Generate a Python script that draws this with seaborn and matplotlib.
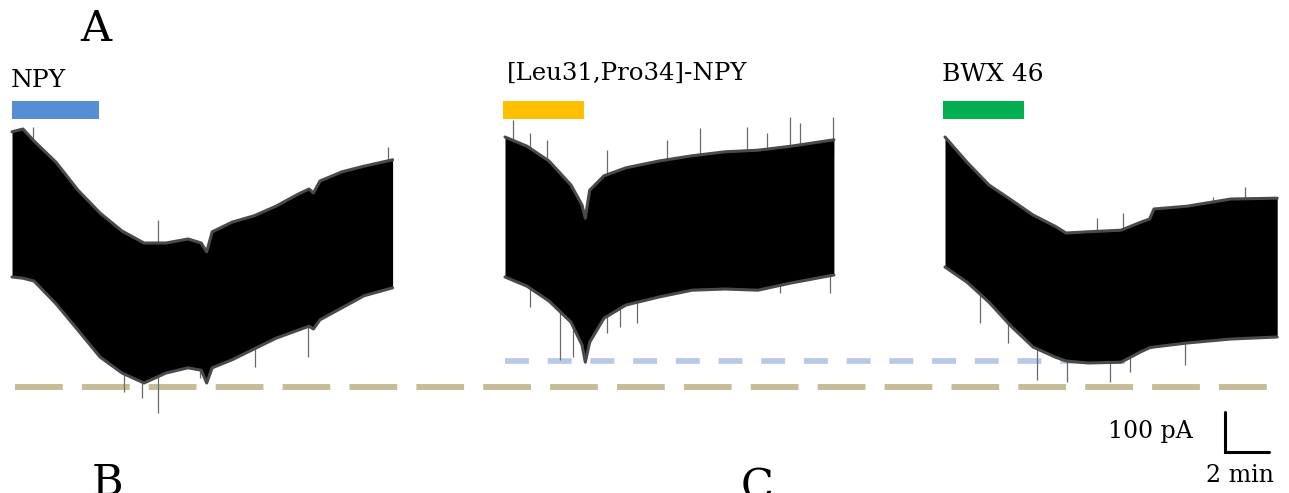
import numpy as np
import matplotlib
matplotlib.use("Agg")
import matplotlib.pyplot as plt
import seaborn as sns

# ---- recorded holding-current envelopes (time in min, current in pA rel. to baseline) ----
npy_t = [0, 0.5, 1, 2, 3, 4, 5, 6, 7, 8, 8.6, 8.85, 9.1, 10, 11, 12, 13, 13.5, 13.7, 14, 15, 16, 17.3]
npy_top = [638, 645, 615, 562, 492, 435, 390, 360, 360, 370, 360, 338, 388, 412, 428, 452, 482, 495, 485, 515, 538, 552, 568]
npy_bot = [275, 272, 265, 208, 142, 75, 35, 10, 35, 48, 42, 10, 48, 68, 95, 122, 142, 152, 145, 168, 198, 228, 248]

leu_t = [0, 1, 2, 3, 3.5, 3.65, 3.85, 4.5, 5.5, 7, 8.5, 10, 11.5, 13, 14.95]
leu_top = [625, 602, 565, 505, 455, 422, 492, 528, 548, 565, 578, 588, 592, 602, 618]
leu_bot = [275, 252, 215, 162, 105, 62, 112, 172, 205, 225, 242, 245, 242, 260, 280]

bwx_t = [0, 1, 2, 3, 4, 5, 5.5, 6.5, 8, 8.9, 9.3, 9.5, 11, 13, 15.1]
bwx_top = [625, 562, 505, 468, 430, 402, 385, 388, 392, 412, 420, 445, 452, 470, 472]
bwx_bot = [300, 262, 212, 152, 100, 75, 65, 60, 62, 88, 98, 100, 110, 120, 125]

# ---- isolated transients: time (min) and peak current (pA) ----
npy_up_t = [0.95, 6.64, 17.09]
npy_up_pk = [650, 418, 600]
npy_dn_t = [5.09, 5.91, 6.64, 8.55, 11.05, 13.45]
npy_dn_pk = [-12, -28, -65, 22, 50, 75]

leu_up_t = [0.36, 1.14, 1.91, 4.64, 7.36, 8.86, 11.0, 11.91, 12.95, 13.41, 14.91]
leu_up_pk = [668, 635, 618, 592, 618, 648, 650, 635, 675, 660, 675]
leu_dn_t = [1.14, 2.5, 3.09, 3.86, 4.64, 5.23, 6.0, 12.5, 14.77]
leu_dn_pk = [200, 68, 75, 118, 135, 150, 160, 235, 235]

bwx_up_t = [6.91, 8.09, 12.18, 13.64]
bwx_up_pk = [422, 435, 475, 500]
bwx_dn_t = [1.59, 2.86, 4.18, 5.55, 7.5, 8.41, 10.91]
bwx_dn_pk = [160, 110, 18, 12, 12, 38, 55]

drug_names = ["NPY", "[Leu31,Pro34]-NPY", "BWX 46"]
drug_colors = ["#558ed5", "#ffc000", "#00b050"]
application_min = [3.95, 3.7, 3.7]

baseline_npy = 0        # pA, control level for NPY / BWX 46
baseline_leu = 65       # pA, control level for [Leu31,Pro34]-NPY

scale_pA = 100
scale_min = 2

# ---- layout ----
W, H = 1289, 493
px_per_min = 22.0
px_per_pA = 0.4
base_px = 387
trace_start = [12 / px_per_min, 505 / px_per_min, 945 / px_per_min]

sns.set_theme(style="white")
plt.rcParams["font.family"] = ["DejaVu Serif"]
plt.rcParams["text.color"] = "black"

fig = plt.figure(figsize=(W / 100, H / 100), dpi=100)
ax = fig.add_axes([0, 0, 1, 1])
ax.set_xlim(0, W / px_per_min)
ax.set_ylim((base_px - H) / px_per_pA, base_px / px_per_pA)
ax.set_axis_off()

traces = [
    (npy_t, npy_top, npy_bot, npy_up_t, npy_up_pk, npy_dn_t, npy_dn_pk),
    (leu_t, leu_top, leu_bot, leu_up_t, leu_up_pk, leu_dn_t, leu_dn_pk),
    (bwx_t, bwx_top, bwx_bot, bwx_up_t, bwx_up_pk, bwx_dn_t, bwx_dn_pk),
]

# control baselines (dashed)
ax.plot([15 / px_per_min, 1268 / px_per_min], [baseline_npy, baseline_npy],
        color="#c6bd98", lw=4.3, dashes=(8.0, 3.2), solid_capstyle="butt", zorder=1)
ax.plot([505 / px_per_min, 1125 / px_per_min], [baseline_leu, baseline_leu],
        color="#b7c9e6", lw=4.1, dashes=(4.2, 3.3), solid_capstyle="butt", zorder=1)

for (t, top, bot, ut, upk, dt, dpk), x0 in zip(traces, trace_start):
    t = np.asarray(t, float) + x0
    top = np.asarray(top, float)
    bot = np.asarray(bot, float)
    # transients
    ut_abs = np.asarray(ut, float) + x0
    ax.vlines(ut_abs, np.interp(ut_abs, t, top) - 40, upk, color="#6a6a6a", lw=0.9, zorder=2)
    dt_abs = np.asarray(dt, float) + x0
    ax.vlines(dt_abs, np.interp(dt_abs, t, bot) + 40, dpk, color="#6a6a6a", lw=0.9, zorder=2)
    # current envelope
    ax.fill_between(t, bot, top, color="black", lw=0, zorder=3)
    sns.lineplot(x=t, y=top, ax=ax, color="#4a4a4a", lw=2.2, sort=False, estimator=None, zorder=3)
    sns.lineplot(x=t, y=bot, ax=ax, color="#4a4a4a", lw=2.2, sort=False, estimator=None, zorder=3)

# drug application bars
bar_x = [12, 503, 943]
for x_px, dur, c in zip(bar_x, application_min, drug_colors):
    x0 = x_px / px_per_min
    ax.fill_between([x0, x0 + dur], (base_px - 119) / px_per_pA, (base_px - 101) / px_per_pA,
                    color=c, lw=0, zorder=4)

# drug names
label_pos = [(11, 87), (507, 80), (942, 81)]
label_size = [18, 17.6, 18]
for name, (x, y), fs in zip(drug_names, label_pos, label_size):
    fig.text(x / W, 1 - y / H, name, fontsize=fs, va="baseline", ha="left")

# scale bar
sx = 1225 / px_per_min
sy = (base_px - 452) / px_per_pA
ax.plot([sx, sx, sx + scale_min], [sy + scale_pA, sy, sy], color="black", lw=2.2,
        solid_joinstyle="miter", zorder=5)
fig.text(1193 / W, 1 - 438 / H, f"{scale_pA} pA", fontsize=17, ha="right", va="baseline")
fig.text(1240 / W, 1 - 482 / H, f"{scale_min} min", fontsize=17, ha="center", va="baseline")

# panel letters
fig.text(96 / W, 1 - 41 / H, "A", fontsize=31, ha="center", va="baseline")
fig.text(107 / W, 1 - 495 / H, "B", fontsize=31, ha="center", va="baseline")
fig.text(757 / W, 1 - 500 / H, "C", fontsize=31, ha="center", va="baseline")

fig.savefig("out.png", dpi=100)
